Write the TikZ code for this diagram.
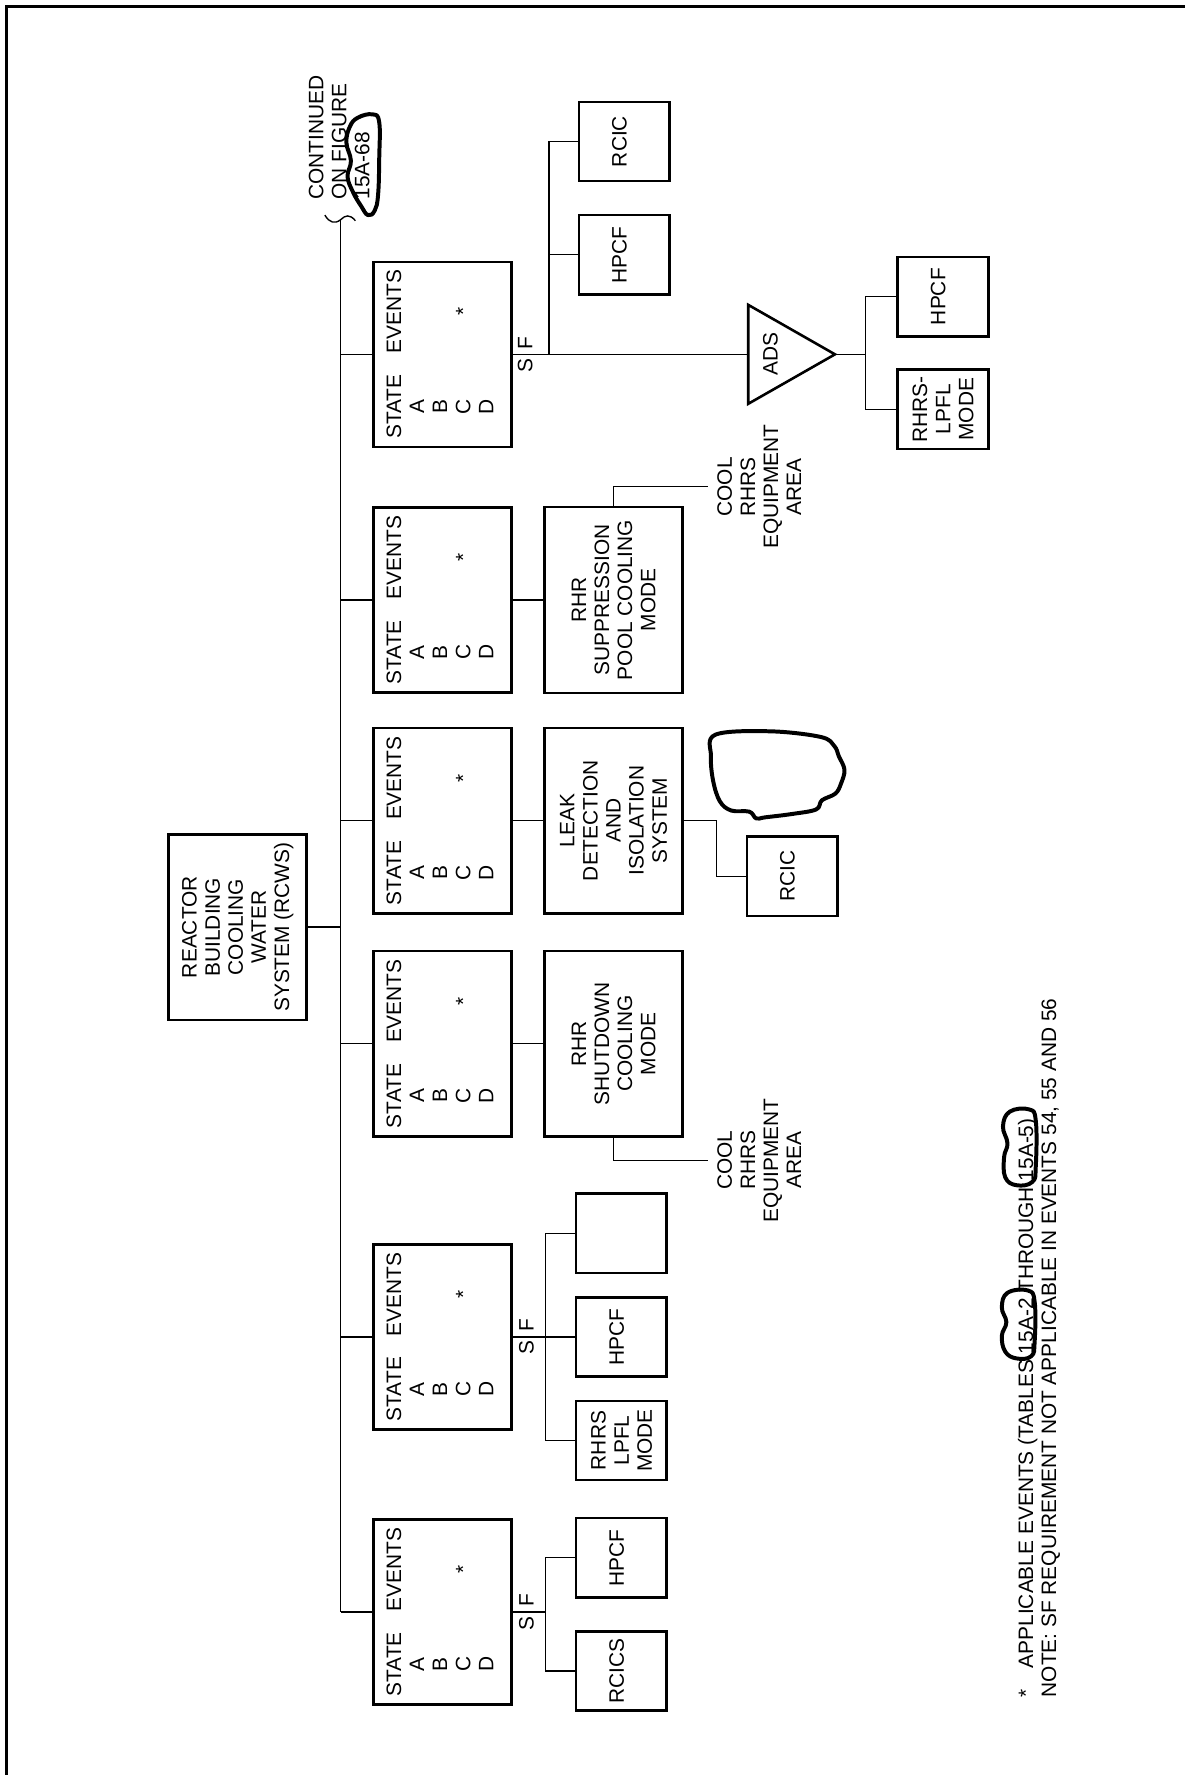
\documentclass[tikz,border=0pt]{standalone}
\usepackage{fontspec}
\setmainfont{Liberation Sans}
\usetikzlibrary{positioning}

\newcommand{\statelist}{%
  \begin{tabular}{@{}c@{\hspace{1em}}c@{}}
    STATE & EVENTS\\ A & \\ B & \\ C & *\\ D &
  \end{tabular}}

\begin{document}
\begin{tikzpicture}[x=0.1mm, y=-0.1mm,
    font=\fontsize{5.25}{5.8}\selectfont,
    blk/.style={draw, line width=0.65pt, rotate=90, align=center, inner sep=0pt},
    statebox/.style={blk, minimum width=16.35mm, minimum height=12.17mm},
    sysbox/.style={blk, minimum width=16.4mm, minimum height=12.2mm},
    smallbox/.style={blk, minimum width=7mm, minimum height=8mm, text depth=2.5pt},
    lbl/.style={rotate=90, align=center, inner sep=0pt},
    link/.style={line width=0.35pt},
    scribble/.style={line width=1pt, line join=round, line cap=round}]

  \useasboundingbox (0,0) rectangle (1046,1568);
  % sheet border
  \draw[line width=0.75pt] (6,1580) -- (6,5.3) -- (1060,5.3);

  % Main system and the bus
  \node[sysbox] (rcws) at (210,819) {REACTOR\\BUILDING\\COOLING\\WATER\\SYSTEM (RCWS)};
  \coordinate (bustop) at (301,194);
  \coordinate (busend) at (301,1424);
  \draw[link] (bustop) -- (busend);
  \draw[link] (287,190) .. controls (291,197) and (296,198) .. (bustop)
                        .. controls (305,190) and (309,189) .. (314,195);
  \draw[link] (rcws.south) -- (rcws.south -| bustop);
  \node[lbl, anchor=north west, align=left] (contd) at (272,177) {CONTINUED\\ON FIGURE\\15A-68};

  % State/event tables
  \node[statebox] (st1) at (391,313) {\statelist};
  \node[statebox] (st2) at (391,530) {\statelist};
  \node[statebox] (st3) at (391,725) {\statelist};
  \node[statebox] (st4) at (391,922) {\statelist};
  \node[statebox] (st5) at (391,1181) {\statelist};
  \node[statebox] (st6) at (391,1424) {\statelist};
  \foreach \n in {1,...,6}
    \draw[link] (st\n.north) -- (st\n.north -| bustop);

  % Supported systems
  \node[sysbox] (supp) at (542,530) {RHR\\SUPPRESSION\\POOL COOLING\\MODE};
  \node[sysbox] (leak) at (542,725) {LEAK\\DETECTION\\AND\\ISOLATION\\SYSTEM};
  \node[sysbox] (shut) at (542,922) {RHR\\SHUTDOWN\\COOLING\\MODE};
  \draw[link] (st2.south) -- (supp.north);
  \draw[link] (st3.south) -- (leak.north);
  \draw[link] (st4.south) -- (shut.north);

  \node[lbl, anchor=north, inner sep=0.8mm] (coolA) at (625,430) {COOL\\RHRS\\EQUIPMENT\\AREA};
  \node[lbl, anchor=north, inner sep=0.8mm] (coolB) at (625,1025) {COOL\\RHRS\\EQUIPMENT\\AREA};
  \draw[link] (supp.east) |- (coolA.north);
  \draw[link] (shut.west) |- (coolB.north);

  \node[smallbox] (rcicC) at (700,774) {RCIC};
  \draw[link] (leak.south) -- ++(29,0) |- (rcicC.north);

  % First table: S/F split and ADS
  \node[smallbox] (rcicA) at (551.5,125) {RCIC};
  \node[smallbox] (hpcfA) at (551.5,225) {HPCF};
  \node[lbl] (sf1) at (464,313) {S\hspace{.45em}F};
  \coordinate (fork1) at ([xshift=3.2mm]st1.south);
  \coordinate (adsin) at (661,313);
  \coordinate (adsout) at (737.6,313);
  \draw[link] (st1.south) -- (adsin);
  \draw[link] (fork1) |- (rcicA.north);
  \draw[link] (fork1) |- (hpcfA.north);
  \draw[line width=0.65pt, line join=miter] ([yshift=4.37mm]adsin) -- (adsout) -- ([yshift=-4.37mm]adsin) -- cycle;
  \node[lbl] (ads) at (680.5,313) {ADS};
  \node[smallbox] (hpcfB) at (833,262) {HPCF};
  \node[smallbox, text depth=0pt] (lpflB) at (833,361.5) {RHRS-\\LPFL\\MODE};
  \coordinate (fork2) at ([xshift=2.7mm]adsout);
  \draw[link] (adsout) -- (fork2);
  \draw[link] (fork2) |- (hpcfB.north);
  \draw[link] (fork2) |- (lpflB.north);

  % Fifth table
  \node[smallbox] (spare) at (549,1089.5) {};
  \node[smallbox] (hpcfC) at (549,1181) {HPCF};
  \node[smallbox, text depth=0pt] (lpflC) at (549,1272.5) {RHRS\\LPFL\\MODE};
  \node[lbl] (sf5) at (465,1181) {S\hspace{.45em}F};
  \coordinate (fork5) at ([xshift=2.9mm]st5.south);
  \draw[link] (st5.south) -- (hpcfC.north);
  \draw[link] (fork5) |- (spare.north);
  \draw[link] (fork5) |- (lpflC.north);

  % Sixth table
  \node[smallbox] (hpcfD) at (549,1376) {HPCF};
  \node[smallbox] (rcics) at (549,1476) {RCICS};
  \node[lbl] (sf6) at (465,1424) {S\hspace{.45em}F};
  \coordinate (fork6) at ([xshift=2.9mm]st6.south);
  \draw[link] (st6.south) -- (fork6);
  \draw[link] (fork6) |- (hpcfD.north);
  \draw[link] (fork6) |- (rcics.north);

  % Footnotes
  \node[lbl, anchor=north west, align=left] (note) at (898.5,1500)
    {*\hspace{1em}APPLICABLE EVENTS (TABLES 15A-2 THROUGH 15A-5)\\
     NOTE: SF REQUIREMENT NOT APPLICABLE IN EVENTS 54, 55 AND 56};

  % Hand-drawn markings
  \draw[scribble] plot[smooth cycle, tension=0.7] coordinates {(316,104) (329,101) (335,108) (335,140) (334,172) (331,186) (325,190) (319,182) (312,170) (307,156) (310,142) (306,126) (309,112)};
  \draw[scribble] plot[smooth cycle, tension=0.6] coordinates {(632,649) (680,646) (725,651) (737,659) (741,668) (746,680) (743,692) (738,701) (726,707) (721,715) (700,719) (676,722) (668,723) (662,717) (646,716) (636,708) (630,690) (628,668)};
  \draw[scribble] plot[smooth cycle, tension=0.7] coordinates {(890,1142) (908,1140) (914,1150) (914,1185) (911,1198) (898,1200) (888,1194) (885,1180) (889,1168) (885,1155)};
  \draw[scribble] plot[smooth cycle, tension=0.7] coordinates {(892,982) (909,980) (915,990) (915,1030) (912,1044) (898,1047) (888,1040) (887,1022) (890,1010) (886,995)};
\end{tikzpicture}
\end{document}
